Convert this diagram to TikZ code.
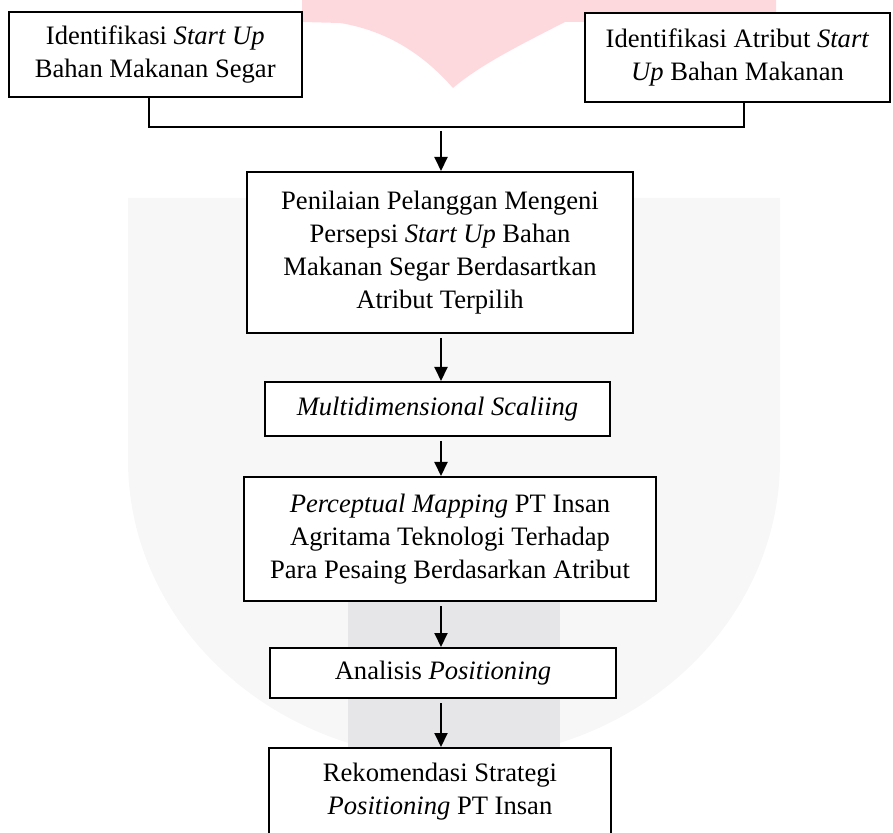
\documentclass[tikz,border=0pt]{standalone}
\usepackage{fontspec}
\setmainfont{Liberation Serif}
\usetikzlibrary{arrows.meta}
\definecolor{wmpink}{RGB}{253,217,222}
\definecolor{wmgray}{RGB}{247,247,248}
\definecolor{wmband}{RGB}{230,230,232}

\begin{document}
\begin{tikzpicture}[x=0.5pt,y=-0.5pt,
    box/.style={draw,line width=1pt,fill=white,align=center,inner sep=0pt,
      font=\fontsize{13.3}{16.5}\selectfont},
    link/.style={line width=1pt},
    arr/.style={line width=1pt,shorten <=2pt,-{Triangle[length=7pt,width=6.5pt]}}]
    \useasboundingbox (0,0) rectangle (893,833);
    \clip (0,0) rectangle (893,833);
    \fill[wmgray] (128,198) -- (780,198) -- (780,460)
      arc[start angle=0,end angle=180,x radius=326,y radius=299] -- cycle;
    \fill[wmband] (348,560) rectangle (560,840);
    \fill[wmpink] (302,-5) -- (776,-5) -- (776,21) -- (565,22)
      .. controls (520,45) and (480,65) .. (453,88)
      .. controls (430,62) and (395,32) .. (340,23) -- (302,22) -- cycle;
    \node[box,minimum width=146.75pt,minimum height=42.5pt] (idstart) at (155.25,54.5)
      {Identifikasi \textit{Start Up}\\ Bahan Makanan Segar};
    \node[box,minimum width=152.5pt,minimum height=44.5pt] (idatribut) at (737.5,57.5)
      {Identifikasi Atribut \textit{Start}\\ \textit{Up} Bahan Makanan};
    \node[box,minimum width=193pt,minimum height=80.5pt] (nilai) at (440,252.5)
      {Penilaian Pelanggan Mengeni\\ Persepsi \textit{Start Up} Bahan\\ Makanan Segar Berdasartkan\\ Atribut Terpilih};
    \node[box,minimum width=172.5pt,minimum height=27pt] (mds) at (437.5,409)
      {\textit{Multidimensional Scaliing}};
    \node[box,minimum width=206pt,minimum height=62pt] (peta) at (450,539)
      {\textit{Perceptual Mapping} PT Insan\\ Agritama Teknologi Terhadap\\ Para Pesaing Berdasarkan Atribut};
    \node[box,minimum width=173pt,minimum height=25pt] (analisis) at (443,673)
      {Analisis \textit{Positioning}};
    \node[box,anchor=north,minimum width=171pt,minimum height=62pt] (rekom) at (440,747)
      {Rekomendasi Strategi\\ \textit{Positioning} PT Insan\\ \strut};
    \coordinate (kiri) at (149,127);
    \coordinate (kanan) at (744,127);
    \coordinate (sumbu) at (441,0);
    \draw[link] (kiri |- idstart.south) -- (kiri) -- (kanan) -- (kanan |- idatribut.south);
    \draw[arr] (sumbu |- kiri) -- (sumbu |- nilai.north);
    \draw[arr] (sumbu |- nilai.south) -- (sumbu |- mds.north);
    \draw[arr] (sumbu |- mds.south) -- (sumbu |- peta.north);
    \draw[arr] (sumbu |- peta.south) -- (sumbu |- analisis.north);
    \draw[arr] (sumbu |- analisis.south) -- (sumbu |- rekom.north);
\end{tikzpicture}
\end{document}
